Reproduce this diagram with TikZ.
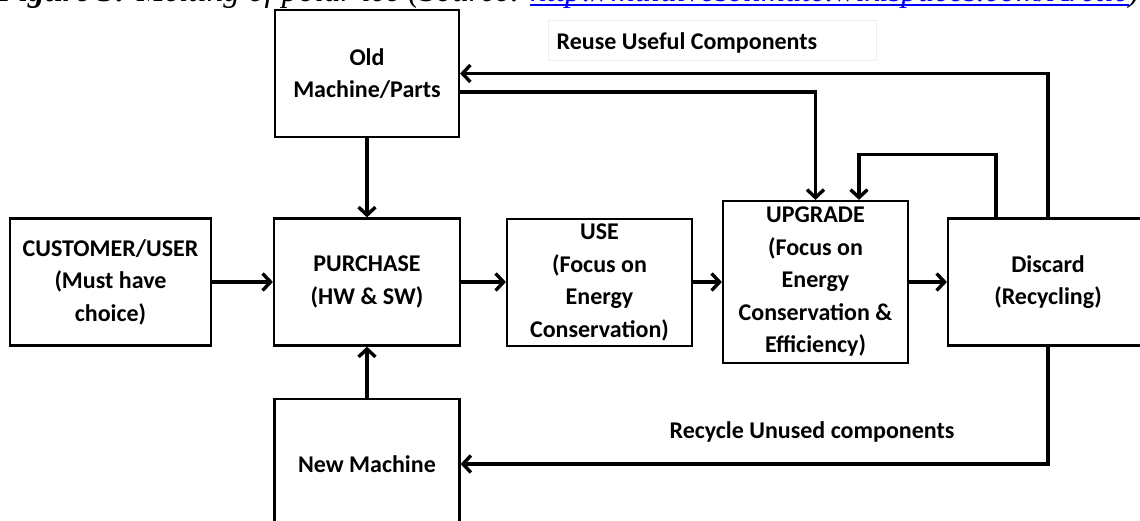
\documentclass[tikz,border=0pt]{standalone}
\usepackage{fontspec}
\setmainfont{Liberation Serif}
\newfontfamily\calib{Carlito}
\usetikzlibrary{arrows.meta}
\newcommand\boxfnt{\calib\bfseries\fontsize{24}{32.5}\selectfont}
\newcommand\capfnt{\itshape\fontsize{33}{36}\selectfont}
\begin{document}
\begin{tikzpicture}[x=1pt,y=-1pt,
  box/.style={draw, line width=2.2pt, align=center, inner sep=0pt, font=\boxfnt},
  arr/.style={line width=3.4pt, -{Straight Barb[length=8pt,width=17pt]}},
  lbl/.style={font=\boxfnt, inner sep=0pt},
  captext/.style={font=\capfnt, inner sep=0pt}
]
\useasboundingbox (0,0) rectangle (1140,520);
\clip (0,0) rectangle (1140,520);
\fill[white] (0,0) rectangle (1140,520);

% caption (cut at top)
\node[captext, anchor=base east] (cap1) at (521,1) {\textbf{Figure 3:} Melting of polar ice (Source:};
\node[captext, anchor=base west, text=blue] (url) at (530,1) {http://maldivesclimate.wikispaces.com/Arctic};
\node[captext, anchor=base west] (cap2) at (url.base east) {)};
\draw[blue, line width=1.6pt] ([yshift=-4pt]url.base west) -- ([yshift=-4pt]url.base east);

% faint label frame
\draw[black!7, line width=1pt] (548,20) rectangle (876,60);

% boxes
\node[box, minimum width=184, minimum height=127] (old) at (367,73.5) {Old\\Machine/Parts};
\node[box, minimum width=201, minimum height=127] (cust) at (110.5,282) {CUSTOMER/USER\\(Must have\\choice)};
\node[box, minimum width=186, minimum height=127] (purch) at (367,282) {PURCHASE\\(HW \& SW)};
\node[box, minimum width=185, minimum height=127] (use) at (599.5,282.5) {USE\\(Focus on\\Energy\\Conservation)};
\node[box, minimum width=185, minimum height=162] (upg) at (815.5,282) {UPGRADE\\(Focus on\\Energy\\Conservation \&\\Efficiency)};
\node[box, minimum width=200, minimum height=127] (disc) at (1048,282) {Discard\\(Recycling)};
\node[box, minimum width=185, minimum height=130] (new) at (367,464) {New Machine};

% labels
\node[lbl] (reuse) at (687,43) {Reuse Useful Components};
\node[lbl] (recyc) at (812,432) {Recycle Unused components};

% connectors
\draw[arr] (cust) -- (purch);
\draw[arr] (purch.east) -- (purch.east -| use.west);
\draw[arr] (use.east |- upg.west) -- (upg.west);
\draw[arr] (upg) -- (disc);
\draw[arr] (old) -- (purch);
\draw[arr] (new) -- (purch);
\draw[arr] (disc.north) |- (old.east);
\draw[arr] ([yshift=-18.5pt]old.east) -| (upg.north);
\draw[arr] ([xshift=-52pt]disc.north) -- ++(0,-63) -| ([xshift=43.5pt]upg.north);
\draw[arr] (disc.south) |- (new.east);
\end{tikzpicture}
\end{document}
